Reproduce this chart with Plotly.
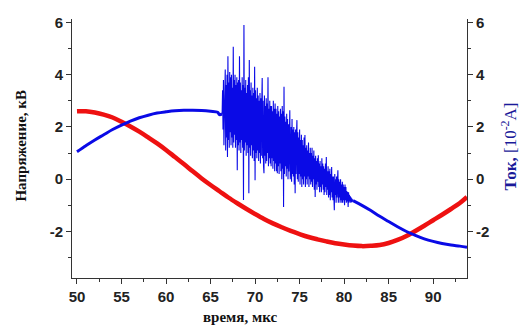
import plotly.graph_objects as go

# ---- data ----
time_red = [50, 51, 52, 53, 54, 55, 56, 57, 58, 59, 60, 61, 62, 63, 64, 65, 66, 67, 68, 69,
            70, 71, 72, 73, 74, 75, 76, 77, 78, 79, 80, 81, 82, 83, 84, 85, 86, 87, 88, 89,
            90, 91, 92, 93, 93.8]
voltage_kv = [2.60, 2.60, 2.55, 2.47, 2.36, 2.20, 2.02, 1.82, 1.60, 1.37, 1.12, 0.85, 0.58, 0.30,
              0.03, -0.22, -0.46, -0.70, -0.92, -1.13, -1.33, -1.52, -1.69, -1.84, -1.98, -2.10,
              -2.21, -2.30, -2.38, -2.45, -2.50, -2.54, -2.56, -2.55, -2.52, -2.44, -2.32, -2.17,
              -1.98, -1.78, -1.57, -1.36, -1.14, -0.91, -0.68]

time_cur_pre = [50, 51, 52, 53, 54, 55, 56, 57, 58, 59, 60, 61, 62, 63, 64, 65, 65.8, 66.0, 66.3]
current_pre = [1.05, 1.28, 1.50, 1.70, 1.90, 2.07, 2.22, 2.35, 2.45, 2.53, 2.58, 2.62, 2.64, 2.64,
               2.63, 2.60, 2.56, 2.47, 2.50]

burst_start = 66.3
burst_step = 0.05
current_burst = [
    2.5, 3.4, 1.9, 3.8, 1.3, 3.3, 2.0, 4.2, 1.1, 3.6,
    1.6, 4.0, 0.85, 4.7, 1.5, 3.7, 1.2, 4.1, 1.8, 3.9,
    1.3, 4.0, 1.6, 3.5, 1.2, 5.07, 1.4, 3.8, 1.7, 4.0,
    1.2, 3.6, 1.5, 3.9, 0.34, 3.7, 1.3, 3.8, 1.1, 4.7,
    1.4, 3.7, 1.0, 3.4, 1.5, 3.9, 1.2, 3.6, -0.8, 5.9,
    1.1, 3.5, 1.4, 3.8, 0.9, 3.3, 1.3, 3.6, 1.0, 3.9,
    -0.54, 4.56, 1.2, 3.4, 0.9, 3.7, 1.3, 3.2, 0.8, 3.5,
    1.1, 3.3, 0.7, 4.3, -0.04, 3.4, 1.0, 3.1, 0.8, 3.5,
    1.1, 3.2, 0.7, 3.0, 1.0, 3.3, 0.6, 3.1, 0.9, 2.9,
    3.87, 0.8, 3.0, 0.5, 0.23, 3.2, 0.9, 2.8, 0.6, 3.1,
    0.7, 2.9, 1.0, 3.9, 0.5, 2.7, 0.8, 3.0, 0.6, 2.8,
    0.5, 2.8, 0.8, 2.6, 0.4, 3.0, 0.7, 2.7, 0.3, 2.9,
    0.6, 2.7, 0.3, 2.5, 0.23, 2.8, 0.5, 2.6, 0.2, 2.4,
    0.6, 2.7, 0.3, 2.5, 0.0, 2.8, 0.4, 2.6, -1.06, 3.54,
    0.2, 2.4, 0.5, 2.2, 0.1, 2.5, 0.4, 2.3, 0.0, 2.1,
    0.3, 2.2, 2.64, 0.0, 0.4, 2.0, -0.1, 2.3, 0.2, 1.9,
    0.1, 2.0, -0.2, 1.8, -0.54, 1.9, 0.2, 1.7, 2.26, 0.0,
    1.8, -0.1, 1.6, 0.2, 1.9, -0.2, 1.5, 0.1, 1.7, -0.3,
    1.5, 0.0, 1.3, -0.2, 1.6, 0.1, 1.69, -0.3, 1.2, 0.0,
    1.3, -0.2, 1.1, 0.1, 1.4, -0.3, 1.0, 0.0, 1.2, -0.2,
    1.0, -0.1, 1.2, -0.3, 0.9, 0.0, 1.1, -0.4, 0.8, -0.68,
    0.9, -0.2, 0.7, -0.4, 0.8, -0.1, 0.92, -0.3, 0.6, -0.5,
    0.7, -0.3, 0.5, -0.5, 0.8, -0.2, 0.6, -0.4, 0.5, -0.6,
    0.4, -0.5, 0.6, -0.3, 0.85, -0.6, 0.3, -0.4, 0.5, -0.7,
    0.3, -0.6, 0.4, -0.8, 0.2, -0.5, 0.47, -0.7, 0.1, -0.8,
    0.1, -0.7, -1.19, 0.2, -0.6, 0.0, -0.9, 0.1, -0.7, -0.1,
    0.34, -0.9, 0.0, -0.7, -0.1, -0.9, 0.0, -0.8, -0.2, -0.9,
    -0.1, -0.9, -0.2, -0.8, -0.3, -1.0, -0.2, -0.8, -0.3, -0.9,
    -0.45, -0.85, -0.49, -1.06, -0.5, -0.9, -0.6, -0.85, -0.65, -0.9,
    -0.7, -0.88, -0.75, -0.85, -0.82,
]

time_cur_post = [81, 82, 83, 84, 85, 86, 87, 88, 89, 90, 91, 92, 93, 93.8]
current_post = [-0.82, -1.00, -1.20, -1.42, -1.62, -1.82, -2.00, -2.15, -2.28, -2.38, -2.46,
                -2.52, -2.56, -2.60]

x_ticks = [50, 55, 60, 65, 70, 75, 80, 85, 90]
y_ticks = [-2, 0, 2, 4, 6]
y_tick_labels = ["-2", "0", "2", "4", "6"]

time_burst = [round(burst_start + i * burst_step, 3) for i in range(len(current_burst))]

RED = "#ee1111"
BLUE = "#0a0ae6"

fig = go.Figure()
fig.add_trace(go.Scatter(x=time_red, y=voltage_kv, mode="lines",
                         line=dict(color=RED, width=4.5, shape="spline"), yaxis="y"))
fig.add_trace(go.Scatter(x=time_cur_pre, y=current_pre, mode="lines",
                         line=dict(color=BLUE, width=3, shape="spline"), yaxis="y2"))
fig.add_trace(go.Scatter(x=time_burst, y=current_burst, mode="lines",
                         line=dict(color=BLUE, width=1.1), yaxis="y2"))
fig.add_trace(go.Scatter(x=time_cur_post, y=current_post, mode="lines",
                         line=dict(color=BLUE, width=3, shape="spline"), yaxis="y2"))

tick_font = dict(family="Liberation Sans", size=15, color="#222222", weight="bold")
title_font = dict(family="Liberation Serif", size=15, color="#111111", weight="bold")

fig.update_layout(
    width=526, height=329,
    margin=dict(l=72, r=59, t=19, b=51),
    paper_bgcolor="white", plot_bgcolor="white",
    showlegend=False,
    xaxis=dict(range=[49.44, 93.8], tickvals=x_ticks, ticks="outside", ticklen=5,
               tickwidth=1, tickcolor="#333", showline=True, linecolor="#333", linewidth=1,
               showgrid=False, zeroline=False, tickfont=tick_font, automargin=False,
               minor=dict(dtick=2.5, tick0=50, ticks="outside", ticklen=3, tickcolor="#333")),
    yaxis=dict(range=[-3.78, 6.13], tickvals=y_ticks, ticktext=y_tick_labels,
               ticks="outside", ticklen=5,
               tickcolor="#333", showline=True, linecolor="#333", linewidth=1,
               showgrid=False, zeroline=False, tickfont=tick_font, automargin=False,
               minor=dict(dtick=1, tick0=0, ticks="outside", ticklen=3, tickcolor="#333")),
    yaxis2=dict(range=[-3.78, 6.13], tickvals=y_ticks, ticktext=y_tick_labels,
                overlaying="y", side="right",
                ticks="outside", ticklen=5, tickcolor="#333", showline=True,
                linecolor="#333", linewidth=1, showgrid=False, zeroline=False,
                tickfont=tick_font, automargin=False,
                minor=dict(dtick=1, tick0=0, ticks="outside", ticklen=3, tickcolor="#333")),
    annotations=[
        dict(text="Напряжение, кВ", xref="paper", yref="paper", x=-0.13, y=0.51,
             textangle=-90, showarrow=False, font=title_font, xanchor="center", yanchor="middle"),
        dict(text="время, мкс", xref="paper", yref="paper", x=0.425, y=-0.152,
             showarrow=False, font=title_font, xanchor="center", yanchor="middle"),
        dict(text="<b>Ток,</b> [10<sup>-2</sup>A]", xref="paper", yref="paper", x=1.105, y=0.51,
             textangle=-90, showarrow=False,
             font=dict(family="Liberation Serif", size=17, color="#1a1a99"),
             xanchor="center", yanchor="middle"),
    ],
)

fig.write_html("out.html", config={"displayModeBar": False},
               post_script="document.body.style.margin='0';")
